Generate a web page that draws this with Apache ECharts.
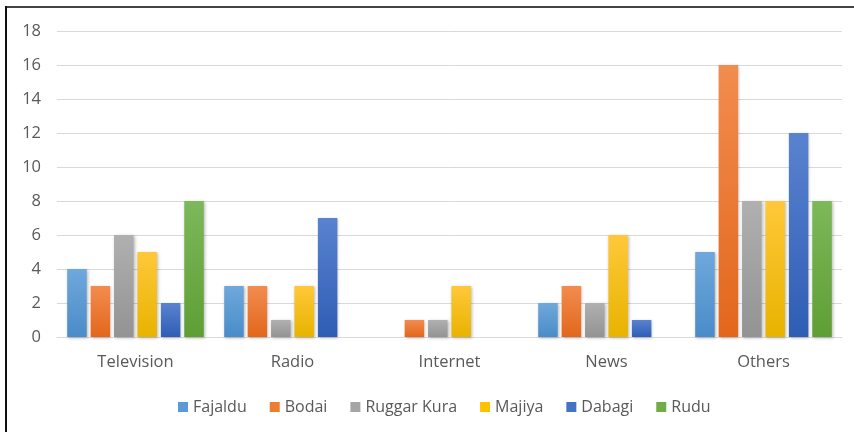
<!DOCTYPE html>
<html>
<head>
<meta charset="utf-8">
<script src="https://cdn.jsdelivr.net/npm/echarts@6/dist/echarts.min.js"></script>
<style>
  html, body { margin: 0; padding: 0; background: #fff; }
  #chart { width: 854px; height: 432px; }
</style>
</head>
<body>
<div id="chart"></div>
<script>
// Media sources by respondent group
const categories = ['Television', 'Radio', 'Internet', 'News', 'Others'];
const seriesNames = ['Fajaldu', 'Bodai', 'Ruggar Kura', 'Majiya', 'Dabagi', 'Rudu'];
const fajaldu    = [4, 3, 0, 2, 5];
const bodai      = [3, 3, 1, 3, 16];
const ruggarKura = [6, 1, 1, 2, 8];
const majiya     = [5, 3, 3, 6, 8];
const dabagi     = [2, 7, 0, 1, 12];
const rudu       = [8, 0, 0, 0, 8];
const yTicks = [0, 2, 4, 6, 8, 10, 12, 14, 16, 18];

const seriesValues = [fajaldu, bodai, ruggarKura, majiya, dabagi, rudu];
// top / bottom shades of each bar gradient
const palette = [
  ['#6fa8dc', '#4a8cc8'],
  ['#f28c4f', '#e2671c'],
  ['#b0b0b0', '#939393'],
  ['#ffc83a', '#e8b300'],
  ['#5a82cf', '#2f5db5'],
  ['#7db85a', '#5f9e35']
];
const flat = ['#5b9bd5', '#ed7d31', '#a5a5a5', '#ffc000', '#4472c4', '#70ad47'];

const chart = echarts.init(document.getElementById('chart'), null, { renderer: 'canvas' });

const series = seriesNames.map((name, i) => ({
  name: name,
  type: 'bar',
  barGap: '20%',
  barCategoryGap: '13%',
  data: seriesValues[i].map(v => (v === 0 ? '-' : v)),
  itemStyle: {
    color: new echarts.graphic.LinearGradient(0, 0, 0, 1, [
      { offset: 0, color: palette[i][0] },
      { offset: 1, color: palette[i][1] }
    ]),
    shadowColor: 'rgba(0,0,0,0.28)',
    shadowBlur: 3,
    shadowOffsetX: 1,
    shadowOffsetY: 1
  }
}));

chart.setOption({
  animation: false,
  color: flat,
  textStyle: { fontFamily: 'Open Sans' },
  grid: { left: 57, right: 12, top: 31, bottom: 95, containLabel: false },
  legend: {
    data: seriesNames.map((n, i) => ({ name: n, itemStyle: { color: flat[i] } })),
    top: 394,
    left: 173,
    itemWidth: 10,
    itemHeight: 10,
    itemGap: 23,
    icon: 'rect',
    textStyle: { fontSize: 16, color: '#595959', fontFamily: 'Open Sans' }
  },
  xAxis: {
    type: 'category',
    data: categories,
    axisLine: { lineStyle: { color: '#d9d9d9', width: 1 } },
    axisTick: { show: false },
    axisLabel: { fontSize: 16.5, color: '#595959', margin: 17, fontFamily: 'Open Sans' }
  },
  yAxis: {
    type: 'value',
    min: yTicks[0],
    max: yTicks[yTicks.length - 1],
    interval: 2,
    axisLine: { show: false },
    axisTick: { show: false },
    splitLine: { lineStyle: { color: '#d9d9d9', width: 1 } },
    axisLabel: { fontSize: 16.5, color: '#595959', margin: 16, fontFamily: 'Open Sans' }
  },
  graphic: [
    { type: 'line', shape: { x1: 6, y1: 7, x2: 854, y2: 7 }, style: { stroke: '#444', lineWidth: 2 } },
    { type: 'line', shape: { x1: 6, y1: 6, x2: 6, y2: 432 }, style: { stroke: '#111', lineWidth: 2 } }
  ],
  series: series
});
</script>
</body>
</html>
